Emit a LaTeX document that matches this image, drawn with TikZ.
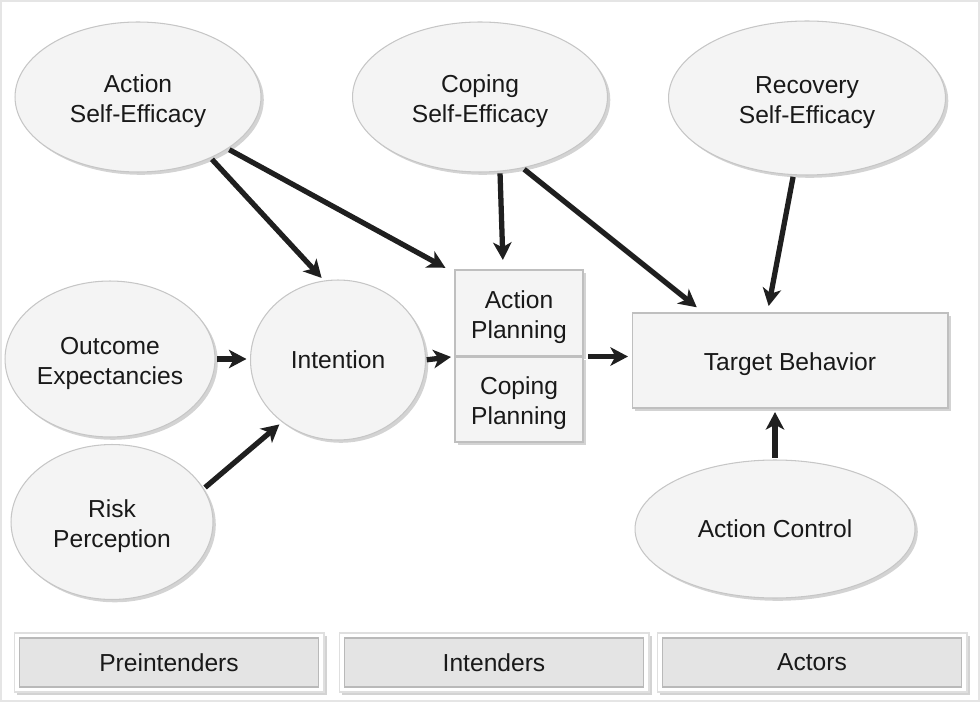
\documentclass[tikz,border=0pt]{standalone}
\usepackage{fontspec}
\setmainfont{Liberation Sans}
\usetikzlibrary{shapes.geometric,arrows.meta,shadows,calc}
\newcommand{\lowstrut}{\rule{0pt}{14.5pt}}
\begin{document}
\begin{tikzpicture}[x=0.02cm,y=-0.02cm,
  every node/.style={font=\fontsize{14}{17}\selectfont, align=center, text=black!90},
  myshadow/.style={drop shadow={opacity=0.35,shadow xshift=1.6pt,shadow yshift=-1.6pt}},
  oval/.style={ellipse, inner sep=0pt, fill=gray!9, draw=gray!45, line width=0.6pt, myshadow},
  pbox/.style={rectangle, inner sep=0pt, fill=gray!9, draw=gray!50, line width=0.6pt, myshadow},
  outerbar/.style={rectangle, inner sep=0pt, fill=white, draw=gray!25, line width=0.6pt, minimum width=6.2cm, minimum height=1.18cm, myshadow},
  innerbar/.style={rectangle, inner sep=0pt, fill=gray!21, draw=gray!55, line width=0.6pt, minimum width=5.98cm, minimum height=0.98cm},
  arr/.style={-{Stealth[length=10pt,width=10.5pt,inset=2.8pt]}, line width=3pt, draw=black!88, shorten >=2pt, shorten <=1pt}]

\useasboundingbox (0,0) rectangle (980,702);
\draw[gray!20, line width=0.6pt] (1,1) rectangle (979,701);

% ellipses
\node[oval, minimum width=4.92cm, minimum height=3.0cm] (ase) at (138,97) {\lowstrut Action\\Self-Efficacy};
\node[oval, minimum width=5.1cm, minimum height=3.0cm] (cse) at (480,97) {\lowstrut Coping\\Self-Efficacy};
\node[oval, minimum width=5.54cm, minimum height=3.08cm] (rse) at (807,98) {\lowstrut Recovery\\Self-Efficacy};
\node[oval, minimum width=4.2cm, minimum height=3.12cm] (oe) at (110,359) {\lowstrut Outcome\\Expectancies};
\node[oval, minimum width=3.5cm, minimum height=3.2cm] (int) at (338,360) {Intention};
\node[oval, minimum width=4.04cm, minimum height=3.1cm] (rp) at (112,522) {\lowstrut Risk\\Perception};
\node[oval, minimum width=5.6cm, minimum height=2.76cm] (ac) at (775,529) {Action Control};

% boxes
\node[pbox, minimum width=2.56cm, minimum height=1.72cm] (ap) at (519,313) {\lowstrut Action\\Planning};
\node[pbox, minimum width=2.56cm, minimum height=1.7cm] (cp) at (519,399.5) {\lowstrut Coping\\Planning};
\node[pbox, minimum width=6.32cm, minimum height=1.9cm] (tb) at (790,360.5) {\lowstrut Target Behavior};

% bottom bars
\node[outerbar] (preo) at (169,662.5) {};
\node[innerbar] (pre) at (169,662.5) {Preintenders};
\node[outerbar] (into) at (494,662.5) {};
\node[innerbar] (intd) at (494,662.5) {Intenders};
\node[outerbar] (acto) at (812,662.5) {};
\node[innerbar] (act) at (812,662.5) {Actors};

% arrows
\draw[arr] (ase.-40) -- (int.100);
\draw[arr] (ase.-30) -- ($(ap.north west)+(-6,0)$);
\draw[arr] (cse.-75) -- ($(ap.north)+(-16,-6)$);
\draw[arr] (cse.-59) -- ($(tb.north west)+(68,-3)$);
\draw[arr] (rse.-100) -- ($(tb.north)+(-22,-3)$);
\draw[arr] (oe.east) -- (oe.east -| int.west);
\draw[arr] (rp.20) -- (int.-132);
\draw[arr] ($(int.east)+(-1,0)$) -- (ap.south west);
\draw[arr] ($(ap.south east)+(3,0)$) -- (ap.south east -| tb.west);
\draw[arr] (ac.north) -- (ac.north |- tb.south);
\end{tikzpicture}
\end{document}
